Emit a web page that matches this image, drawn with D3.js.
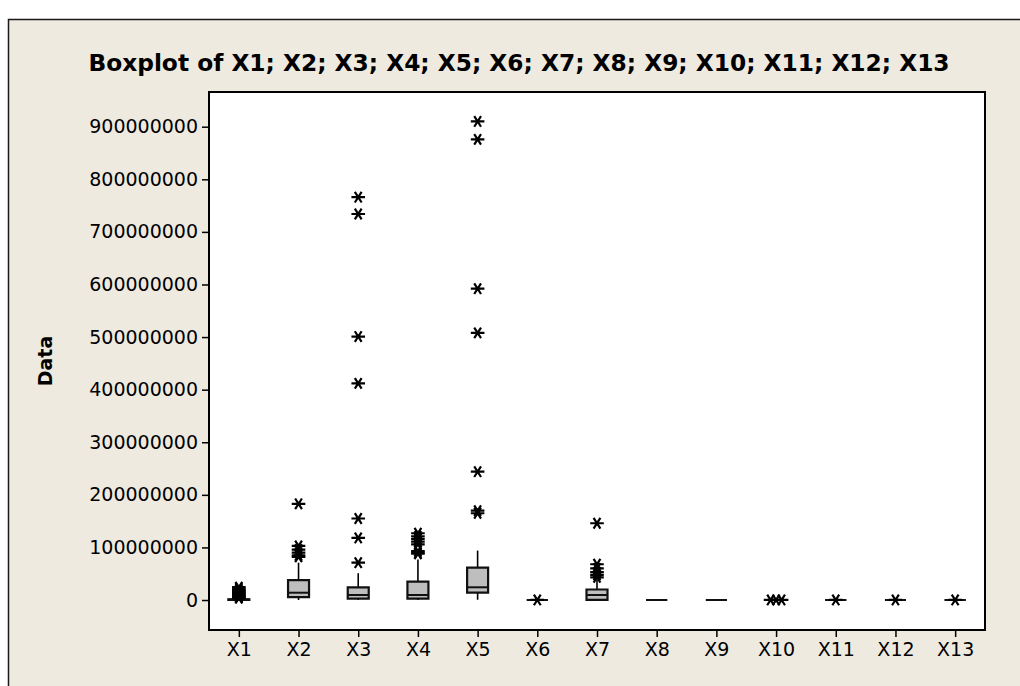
<!DOCTYPE html>
<html>
<head>
<meta charset="utf-8">
<script src="https://cdn.jsdelivr.net/npm/d3@7"></script>
<style>
  html, body { margin: 0; padding: 0; background: #ffffff; }
  svg { display: block; }
  text { font-family: "DejaVu Sans", Verdana, sans-serif; fill: #000; }
</style>
</head>
<body>
<svg id="chart" width="1020" height="686"></svg>
<script>
// Series names
const categories = ["X1","X2","X3","X4","X5","X6","X7","X8","X9","X10","X11","X12","X13"];

// Five-number summaries per series (whisker low, Q1, median, Q3, whisker high)
const whiskerLow  = [0,      0,      0,      0,      0.5e6,  0, 0,      0, 0, 0, 0, 0, 0];
const q1          = [0.2e6,  5.7e6,  2.5e6,  2.5e6,  13.9e6, 0, 0.3e6,  0, 0, 0, 0, 0, 0];
const median      = [0.6e6,  13.9e6, 9.5e6,  9.5e6,  24.2e6, 0, 9.5e6,  0, 0, 0, 0, 0, 0];
const q3          = [1.4e6,  38e6,   24e6,   35e6,   61.5e6, 0, 20e6,   0, 0, 0, 0, 0, 0];
const whiskerHigh = [3e6,    71e6,   51e6,   77e6,   94e6,   0, 38e6,   0, 0, 0, 0, 0, 0];

// Outlying observations per series
const outliers = [
  [3.5e6, 4.8e6, 6.2e6, 7.9e6, 9.4e6, 11.3e6, 13.1e6, 15.6e6, 17.2e6, 19.4e6, 21.8e6, 24.5e6],
  [183e6, 103e6, 96e6, 90e6, 85e6, 82e6],
  [766e6, 734e6, 501e6, 412e6, 155e6, 118e6, 71e6],
  [127e6, 121e6, 116e6, 111e6, 106e6, 93e6, 90e6, 88e6],
  [910e6, 876e6, 592e6, 508e6, 244e6, 170e6, 165e6],
  [0.1e6],
  [146e6, 68e6, 60e6, 53e6, 48e6, 43e6],
  [],
  [],
  [0.1e6, 0.1e6, 0.1e6],
  [0.1e6],
  [0.1e6],
  [0.1e6]
];

// Y-axis tick values
const yTicks = [0, 100000000, 200000000, 300000000, 400000000, 500000000,
                600000000, 700000000, 800000000, 900000000];

const titleText = "Boxplot of X1; X2; X3; X4; X5; X6; X7; X8; X9; X10; X11; X12; X13";
const yLabel = "Data";

const svg = d3.select("#chart");

// Outer panel
svg.append("rect")
  .attr("x", 8.5).attr("y", 19.5)
  .attr("width", 1030).attr("height", 700)
  .attr("fill", "#eeeae0")
  .attr("stroke", "#1a1a1a").attr("stroke-width", 1.5);

const plot = { left: 209, top: 92, right: 985, bottom: 630 };

const x = d3.scalePoint()
  .domain(categories)
  .range([plot.left, plot.right])
  .padding(0.5);

const y = d3.scaleLinear()
  .domain([-57e6, 966e6])
  .range([plot.bottom, plot.top]);

// Plot area
svg.append("rect")
  .attr("x", plot.left).attr("y", plot.top)
  .attr("width", plot.right - plot.left).attr("height", plot.bottom - plot.top)
  .attr("fill", "#ffffff")
  .attr("stroke", "#000").attr("stroke-width", 2);

// Title (narrow bold face), sized to span the intended width
const title = svg.append("text")
  .attr("x", 519).attr("y", 71)
  .attr("text-anchor", "middle")
  .attr("font-family", "'DejaVu Sans Condensed', 'DejaVu Sans', sans-serif")
  .attr("font-weight", "bold")
  .attr("font-size", 26)
  .text(titleText);
const titleW = title.node().getComputedTextLength();
if (titleW > 0) title.attr("font-size", Math.min(28, 26 * 862 / titleW));

// Y axis
const yAxis = d3.axisLeft(y)
  .tickValues(yTicks)
  .tickFormat(d3.format("d"))
  .tickSizeInner(7).tickSizeOuter(0).tickPadding(4);

const gy = svg.append("g")
  .attr("transform", `translate(${plot.left},0)`)
  .call(yAxis);
gy.select(".domain").remove();
gy.selectAll("line").attr("stroke", "#000").attr("stroke-width", 1.5);
gy.selectAll("text").attr("font-size", 19).attr("fill", "#000")
  .attr("font-family", "'DejaVu Sans', Verdana, sans-serif");

// X axis
const xAxis = d3.axisBottom(x).tickSizeInner(7).tickSizeOuter(0).tickPadding(6);
const gx = svg.append("g")
  .attr("transform", `translate(0,${plot.bottom})`)
  .call(xAxis);
gx.select(".domain").remove();
gx.selectAll("line").attr("stroke", "#000").attr("stroke-width", 1.5);
gx.selectAll("text").attr("font-size", 19).attr("fill", "#000")
  .attr("font-family", "'DejaVu Sans', Verdana, sans-serif");

// Y label
svg.append("text")
  .attr("transform", `translate(52,${(plot.top + plot.bottom) / 2}) rotate(-90)`)
  .attr("text-anchor", "middle")
  .attr("font-weight", "bold")
  .attr("font-size", 19)
  .text(yLabel);

// Boxes
const boxW = 21;
const rows = categories.map((c, i) => ({
  c, lo: whiskerLow[i], q1: q1[i], med: median[i], q3: q3[i], hi: whiskerHigh[i], out: outliers[i]
}));

const g = svg.append("g");

rows.forEach(r => {
  const cx = x(r.c);
  // whiskers
  g.append("line")
    .attr("x1", cx).attr("x2", cx)
    .attr("y1", y(r.q3)).attr("y2", y(r.hi))
    .attr("stroke", "#000").attr("stroke-width", 1.6);
  g.append("line")
    .attr("x1", cx).attr("x2", cx)
    .attr("y1", y(r.q1)).attr("y2", y(r.lo))
    .attr("stroke", "#000").attr("stroke-width", 1.6);
  // box (path so that a collapsed box still draws as a line)
  const x0 = cx - boxW / 2, x1 = cx + boxW / 2;
  g.append("path")
    .attr("d", `M${x0},${y(r.q3)}H${x1}V${y(r.q1)}H${x0}Z`)
    .attr("fill", "#bebebe")
    .attr("stroke", "#111").attr("stroke-width", 2.2);
  // median
  g.append("path")
    .attr("d", `M${x0},${y(r.med)}H${x1}`)
    .attr("stroke", "#111").attr("stroke-width", 2);
});

// Outlier asterisks; identical values are spread sideways so each stays visible
const starR = 6.8;
const starPath = (() => {
  const p = d3.path();
  for (let k = 0; k < 3; k++) {
    const a = k * Math.PI / 3;
    p.moveTo(-starR * Math.cos(a), -starR * Math.sin(a) * 0.9);
    p.lineTo(starR * Math.cos(a), starR * Math.sin(a) * 0.9);
  }
  return p.toString();
})();

rows.forEach(r => {
  const counts = d3.rollup(r.out, v => v.length, d => d);
  const seen = new Map();
  r.out.forEach(v => {
    const n = counts.get(v);
    const k = seen.get(v) || 0;
    seen.set(v, k + 1);
    const dx = n > 1 ? (k - (n - 1) / 2) * 5.5 : 0;
    g.append("path")
      .attr("d", starPath)
      .attr("transform", `translate(${x(r.c) + dx},${y(v)})`)
      .attr("fill", "none")
      .attr("stroke", "#000").attr("stroke-width", 2.2);
  });
});
</script>
</body>
</html>
